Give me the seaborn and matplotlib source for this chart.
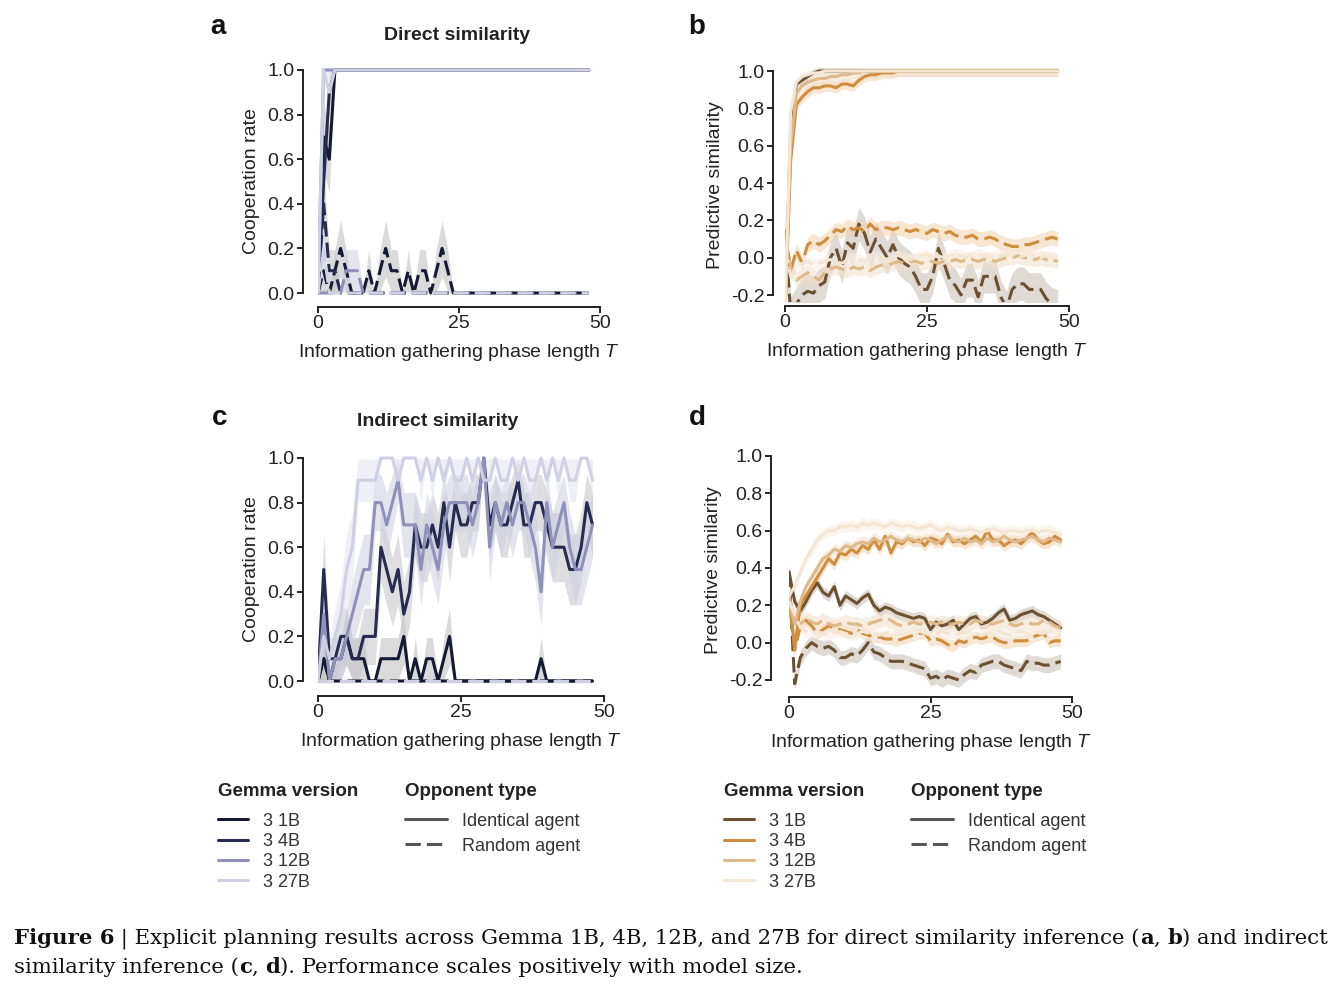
import numpy as np
import pandas as pd
import matplotlib
matplotlib.use("Agg")
import matplotlib.pyplot as plt
from matplotlib.lines import Line2D
from matplotlib import font_manager
import seaborn as sns

W, H = 1336, 990

# ---- data ----
T = list(range(49))
MODELS = ["3 1B", "3 4B", "3 12B", "3 27B"]
OPPONENTS = ["Identical agent", "Random agent"]

# panel a: direct similarity, cooperation rate
A_ID_1B = [0, .7, .6, 1, 1, 1, 1, 1, 1, 1, 1, 1, 1, 1, 1, 1, 1, 1, 1, 1, 1, 1, 1, 1, 1,
           1, 1, 1, 1, 1, 1, 1, 1, 1, 1, 1, 1, 1, 1, 1, 1, 1, 1, 1, 1, 1, 1, 1, 1]
A_ID_4B = [0, .5, .9, 1, 1, 1, 1, 1, 1, 1, 1, 1, 1, 1, 1, 1, 1, 1, 1, 1, 1, 1, 1, 1, 1,
           1, 1, 1, 1, 1, 1, 1, 1, 1, 1, 1, 1, 1, 1, 1, 1, 1, 1, 1, 1, 1, 1, 1, 1]
A_ID_12B = [0, 1, 1, 1, 1, 1, 1, 1, 1, 1, 1, 1, 1, 1, 1, 1, 1, 1, 1, 1, 1, 1, 1, 1, 1,
            1, 1, 1, 1, 1, 1, 1, 1, 1, 1, 1, 1, 1, 1, 1, 1, 1, 1, 1, 1, 1, 1, 1, 1]
A_ID_27B = [0, 1, .9, 1, 1, 1, 1, 1, 1, 1, 1, 1, 1, 1, 1, 1, 1, 1, 1, 1, 1, 1, 1, 1, 1,
            1, 1, 1, 1, 1, 1, 1, 1, 1, 1, 1, 1, 1, 1, 1, 1, 1, 1, 1, 1, 1, 1, 1, 1]
A_RD_1B = [0, .1, 0, .1, .2, .1, 0, 0, 0, .1, 0, .1, .2, .1, .1, 0, .1, 0, .1, .1, 0, .1, .2, .1, 0,
           0, 0, 0, 0, 0, 0, 0, 0, 0, 0, 0, 0, 0, 0, 0, 0, 0, 0, 0, 0, 0, 0, 0, 0]
A_RD_4B = [0, .4, .1, .1, 0, 0, 0, 0, 0, 0, 0, 0, 0, 0, 0, 0, 0, 0, 0, 0, 0, 0, 0, 0, 0,
           0, 0, 0, 0, 0, 0, 0, 0, 0, 0, 0, 0, 0, 0, 0, 0, 0, 0, 0, 0, 0, 0, 0, 0]
A_RD_12B = [0, 0, 0, 0, 0, .1, .1, .1, 0, 0, 0, 0, 0, 0, 0, 0, 0, 0, 0, 0, 0, 0, 0, 0, 0,
            0, 0, 0, 0, 0, 0, 0, 0, 0, 0, 0, 0, 0, 0, 0, 0, 0, 0, 0, 0, 0, 0, 0, 0]
A_RD_27B = [0, .2, 0, 0, 0, 0, 0, 0, 0, 0, 0, 0, 0, 0, 0, 0, 0, 0, 0, 0, 0, 0, 0, 0, 0,
            0, 0, 0, 0, 0, 0, 0, 0, 0, 0, 0, 0, 0, 0, 0, 0, 0, 0, 0, 0, 0, 0, 0, 0]

# panel b: direct similarity, predictive similarity
B_ID_1B = [-.3, .7, .93, .95, .97, .99, 1, 1, 1, 1, 1, 1, 1, 1, 1, 1, 1, 1, 1, 1, 1, 1, 1, 1, 1,
           1, 1, 1, 1, 1, 1, 1, 1, 1, 1, 1, 1, 1, 1, 1, 1, 1, 1, 1, 1, 1, 1, 1, 1]
B_ID_4B = [-.3, .52, .82, .86, .89, .91, .91, .92, .92, .91, .93, .93, .92, .95, .97, .98, .98, .99, .99, .99,
           1, 1, 1, 1, 1, 1, 1, 1, 1, 1, 1, 1, 1, 1, 1, 1, 1, 1, 1, 1, 1, 1, 1, 1, 1, 1, 1, 1, 1]
B_ID_12B = [-.3, .6, .88, .92, .94, .95, .96, .96, .97, .97, .98, .98, .99, .99, 1, 1, 1, 1, 1, 1,
            1, 1, 1, 1, 1, 1, 1, 1, 1, 1, 1, 1, 1, 1, 1, 1, 1, 1, 1, 1, 1, 1, 1, 1, 1, 1, 1, 1, 1]
B_ID_27B = [-.3, .78, .94, .97, .98, .99, .99, 1, 1, 1, 1, 1, 1, 1, 1, 1, 1, 1, 1, 1,
            1, 1, 1, 1, 1, 1, 1, 1, 1, 1, 1, 1, 1, 1, 1, 1, 1, 1, 1, 1, 1, 1, 1, 1, 1, 1, 1, 1, 1]
B_RD_1B = [.15, -.3, -.25, -.2, -.18, -.19, -.15, -.13, 0, .05, -.05, .08, .05, .18, .13, .03, .1, .05, 0, .07,
           0, -.03, -.05, -.1, -.17, -.17, -.1, .05, -.03, -.12, -.15, -.2, -.12, -.12, -.21, -.1, -.1, -.1, -.21,
           -.27, -.17, -.14, -.14, -.17, -.17, -.17, -.22, -.25, -.26]
B_RD_4B = [.15, -.07, .04, -.03, .07, .09, .07, .09, .12, .15, .14, .17, .15, .16, .14, .18, .15, .16, .16, .15,
           .16, .15, .14, .15, .14, .13, .15, .14, .13, .14, .12, .11, .11, .12, .10, .10, .11, .10, .08, .07,
           .06, .06, .07, .07, .08, .09, .10, .11, .10]
B_RD_12B = [.1, -.05, -.12, -.1, -.08, -.1, -.12, -.08, -.06, -.05, -.06, -.07, -.05, -.06, -.05, -.07, -.05,
            -.04, -.04, -.03, -.02, -.03, -.02, -.02, -.03, -.02, -.02, -.03, -.02, -.02, -.01, -.02, -.01, -.01,
            -.02, -.01, -.01, -.02, -.01, 0, 0, .01, 0, 0, -.01, 0, -.01, -.01, -.02]
B_RD_27B = [.05, -.1, -.05, -.03, -.02, -.04, -.03, -.02, -.01, -.02, -.03, -.01, 0, -.01, -.02, 0, .01, 0,
            -.01, 0, .01, 0, -.01, 0, .01, .02, 0, .01, 0, .01, .02, .01, 0, .01, .02, .01, 0, .01, .01, .02,
            .01, 0, .01, .02, .01, 0, .01, 0, -.01]

# panel c: indirect similarity, cooperation rate
C_ID_1B = [0, .1, 0, .1, .1, .2, .1, .1, .1, 0, 0, .1, .1, .1, .1, .2, 0, .1, 0, .1, .1, 0, .1, .2, 0,
           0, 0, 0, 0, 0, 0, 0, 0, 0, 0, 0, 0, 0, 0, .1, 0, 0, 0, 0, 0, 0, 0, 0, 0]
C_ID_4B = [0, .5, .1, .1, .2, .2, .1, .1, .2, .2, .2, .6, .5, .4, .5, .3, .4, .7, .6, .6, .7, .6, .8, .6, .8,
           .7, .7, .8, .8, 1, .7, .8, .7, .7, .8, .9, .7, .7, .8, .8, .7, .6, .6, .6, .5, .5, .6, .8, .7]
C_ID_12B = [0, .3, 0, .1, .1, .2, .3, .4, .5, .5, .8, .8, .7, .8, .9, .7, .7, .7, .5, .7, .6, .5, .7, .8, .8,
            .8, .8, .7, .8, 1, .6, .8, .7, .8, .7, .8, .8, .7, .6, .4, .8, .6, .7, .8, .6, .5, .5, .6, .7]
C_ID_27B = [0, .2, .1, .2, .3, .5, .6, .9, .9, .9, .9, 1, 1, 1, .9, 1, 1, 1, .9, 1, .9, 1, .9, 1, .9,
            .9, 1, .9, 1, .9, .9, 1, .9, .9, 1, .9, 1, .9, .9, 1, .9, 1, .9, 1, .9, .9, 1, 1, .9]
C_RD_1B = [0, .1, 0, 0, 0, 0, 0, 0, 0, 0, 0, 0, 0, 0, 0, 0, 0, 0, 0, 0, 0, 0, 0, 0, 0,
           0, 0, 0, 0, 0, 0, 0, 0, 0, 0, 0, 0, 0, 0, 0, 0, 0, 0, 0, 0, 0, 0, 0, 0]
C_RD_4B = [0, 0, 0, 0, 0, 0, 0, 0, 0, 0, 0, 0, 0, 0, 0, 0, 0, 0, 0, 0, 0, 0, 0, 0, 0,
           0, 0, 0, 0, 0, 0, 0, 0, 0, 0, 0, 0, 0, 0, 0, 0, 0, 0, 0, 0, 0, 0, 0, 0]
C_RD_12B = [0, 0, 0, 0, 0, 0, 0, 0, 0, 0, 0, 0, 0, 0, 0, 0, 0, 0, 0, 0, 0, 0, 0, 0, 0,
            0, 0, 0, 0, 0, 0, 0, 0, 0, 0, 0, 0, 0, 0, 0, 0, 0, 0, 0, 0, 0, 0, 0, 0]
C_RD_27B = [0, 0, 0, 0, 0, 0, 0, 0, 0, 0, 0, 0, 0, 0, 0, 0, 0, 0, 0, 0, 0, 0, 0, 0, 0,
            0, 0, 0, 0, 0, 0, 0, 0, 0, 0, 0, 0, 0, 0, 0, 0, 0, 0, 0, 0, 0, 0, 0, 0]

# panel d: indirect similarity, predictive similarity
D_ID_1B = [.38, .22, .17, .22, .28, .32, .27, .25, .3, .2, .25, .23, .21, .24, .26, .2, .17, .19, .18, .16,
           .15, .14, .13, .14, .13, .07, .11, .09, .1, .12, .07, .1, .13, .14, .1, .11, .13, .16, .18, .12,
           .13, .15, .16, .17, .15, .14, .12, .1, .08]
D_ID_4B = [.25, -.03, .2, .25, .3, .35, .4, .45, .42, .48, .47, .5, .48, .52, .5, .55, .5, .57, .48, .54,
           .53, .56, .54, .55, .52, .56, .55, .53, .58, .54, .55, .53, .55, .57, .54, .6, .55, .55, .52, .54,
           .55, .53, .56, .59, .55, .53, .54, .57, .55]
D_ID_12B = [.22, .1, .22, .3, .35, .4, .45, .47, .5, .49, .52, .51, .53, .54, .53, .56, .54, .55, .57, .55,
            .54, .56, .55, .54, .56, .55, .53, .55, .57, .55, .54, .56, .54, .55, .53, .56, .54, .55, .57, .55,
            .54, .55, .56, .57, .55, .54, .56, .55, .54]
D_ID_27B = [.25, .3, .38, .45, .5, .55, .58, .6, .6, .62, .62, .63, .62, .64, .63, .64, .63, .62, .64, .63,
            .62, .63, .62, .61, .62, .63, .61, .6, .62, .61, .6, .6, .61, .6, .59, .6, .61, .6, .59, .6,
            .6, .59, .6, .6, .59, .6, .6, .59, .58]
D_RD_1B = [.38, -.22, -.08, -.03, 0, -.02, -.03, -.02, -.04, -.08, -.08, -.06, -.07, -.04, 0, -.05, -.06,
           -.08, -.1, -.1, -.1, -.11, -.12, -.13, -.14, -.19, -.18, -.2, -.18, -.19, -.2, -.17, -.15, -.16,
           -.12, -.11, -.1, -.1, -.12, -.13, -.14, -.15, -.1, -.11, -.11, -.12, -.12, -.11, -.1]
D_RD_4B = [.25, -.04, .09, .12, .09, .05, .07, .09, .08, .07, .06, .05, .07, .05, .04, .03, .03, .02, .02,
           .01, .02, .03, .04, .05, .05, .01, .02, .01, -.01, -.02, .01, 0, .02, .03, .02, .03, .03, .01, 0,
           0, .01, .01, .01, .03, .04, .05, 0, .01, .01]
D_RD_12B = [.25, .12, .1, .13, .11, .1, .12, .1, .09, .1, .11, .1, .1, .09, .1, .11, .12, .13, .12, .1,
            .09, .1, .11, .1, .1, .11, .1, .11, .1, .1, .11, .1, .1, .12, .11, .1, .1, .11, .12, .1,
            .09, .1, .11, .1, .1, .12, .11, .09, .08]
D_RD_27B = [.22, .15, .08, .06, .05, .06, .05, .04, .05, .06, .05, .04, .05, .06, .05, .05, .04, .05, .06,
            .05, .04, .05, .05, .06, .05, .04, .05, .06, .05, .04, .05, .05, .06, .05, .04, .05, .05, .06,
            .05, .04, .05, .06, .05, .04, .05, .05, .06, .05, .04]

# half-widths of the shaded bands in b and d (per model, identical / random)
B_BAND_ID = [.02, .03, .03, .02]
B_BAND_RD = [.09, .04, .04, .03]
D_BAND_ID = [.03, .03, .03, .03]
D_BAND_RD = [.04, .03, .04, .03]

BLUES = ["#151a33", "#262b50", "#8f91ba", "#cfd0e3"]
BLUE_BANDS = ["#bdbdbd", "#c4c4c8", "#cdcee0", "#e2e3ef"]
BROWNS = ["#6b5031", "#cf8d3e", "#dfb98a", "#f4e6d2"]
BROWN_BANDS = ["#c7bdb2", "#f0d2ae", "#f2dfc8", "#f7eee3"]

# ---- style ----
sns.set_theme(style="ticks")
plt.rcParams["font.family"] = ["Liberation Sans", "DejaVu Sans"]
plt.rcParams["axes.unicode_minus"] = False
plt.rcParams["mathtext.fontset"] = "custom"
plt.rcParams["mathtext.it"] = "Liberation Sans:italic"
plt.rcParams["mathtext.rm"] = "Liberation Sans"

names = {f.name for f in font_manager.fontManager.ttflist}
NARROW = "Liberation Sans Narrow" if "Liberation Sans Narrow" in names else "Liberation Sans"
SERIF = "DejaVu Serif"
INK = "#222222"
FS = 14

fig = plt.figure(figsize=(W / 100, H / 100), dpi=100)


def make_axes(x0, x50, ytop, ybot, vtop, vbot, ylim, spine_x, spine_y):
    ppu = (ybot - ytop) / (vtop - vbot)
    top = ytop - (ylim[1] - vtop) * ppu
    bottom = ybot + (vbot - ylim[0]) * ppu
    ax = fig.add_axes([x0 / W, 1 - bottom / H, (x50 - x0) / W, (bottom - top) / H])
    ax.set_xlim(0, 50)
    ax.set_ylim(*ylim)
    sns.despine(ax=ax)
    ax.spines["left"].set_position(("outward", (x0 - spine_x) * 0.72))
    ax.spines["bottom"].set_position(("outward", (spine_y - bottom) * 0.72))
    return ax


def draw_panel(ax, ident, rand, colors, band_colors, band_id=None, band_rd=None):
    rows = []
    for opp, group, bw in [(OPPONENTS[0], ident, band_id), (OPPONENTS[1], rand, band_rd)]:
        for i, (model, vals) in enumerate(zip(MODELS, group)):
            v = np.array(vals, dtype=float)
            if bw is None:
                se = np.sqrt(np.clip(v * (1 - v), 0, None) / 10)
                lo, hi = np.clip(v - se, 0, 1), np.clip(v + se, 0, 1)
            else:
                lo, hi = v - bw[i], v + bw[i]
            ax.fill_between(T, lo, hi, color=band_colors[i], alpha=0.55, lw=0, zorder=1)
            for t, y in zip(T, vals):
                rows.append({"T": t, "value": y, "model": model, "opponent": opp})
    df = pd.DataFrame(rows)
    sns.lineplot(data=df, x="T", y="value", hue="model", style="opponent",
                 hue_order=MODELS, style_order=OPPONENTS,
                 palette=dict(zip(MODELS, colors)),
                 dashes={OPPONENTS[0]: "", OPPONENTS[1]: (5, 2)},
                 errorbar=None, linewidth=2.2, legend=False, ax=ax, zorder=3)


def finish(ax, ylabel, yticks, ybounds):
    ax.set_xticks([0, 25, 50])
    ax.set_yticks(yticks)
    ax.set_yticklabels([f"{t:.1f}" for t in yticks])
    ax.spines["left"].set_bounds(*ybounds)
    ax.spines["bottom"].set_bounds(0, 50)
    for s in ["left", "bottom"]:
        ax.spines[s].set_linewidth(1.4)
        ax.spines[s].set_color(INK)
    ax.tick_params(length=4, width=1.4, labelsize=FS, colors=INK, pad=2)
    ax.set_xlabel("Information gathering phase length $T$", fontsize=FS, color=INK, labelpad=7)
    ax.set_ylabel(ylabel, fontsize=FS, color=INK, labelpad=5)


ax_a = make_axes(318, 600, 70, 293, 1.0, 0.0, (-0.015, 1.015), 303, 307)
draw_panel(ax_a, [A_ID_1B, A_ID_4B, A_ID_12B, A_ID_27B], [A_RD_1B, A_RD_4B, A_RD_12B, A_RD_27B],
           BLUES, BLUE_BANDS)
finish(ax_a, "Cooperation rate", [0, .2, .4, .6, .8, 1.0], (0, 1))

ax_b = make_axes(785, 1069, 71, 295, 1.0, -0.2, (-0.235, 1.015), 773, 306)
draw_panel(ax_b, [B_ID_1B, B_ID_4B, B_ID_12B, B_ID_27B], [B_RD_1B, B_RD_4B, B_RD_12B, B_RD_27B],
           BROWNS, BROWN_BANDS, B_BAND_ID, B_BAND_RD)
finish(ax_b, "Predictive similarity", [-.2, 0, .2, .4, .6, .8, 1.0], (-0.2, 1))

ax_c = make_axes(318, 604, 458, 681, 1.0, 0.0, (-0.015, 1.015), 303, 696)
draw_panel(ax_c, [C_ID_1B, C_ID_4B, C_ID_12B, C_ID_27B], [C_RD_1B, C_RD_4B, C_RD_12B, C_RD_27B],
           BLUES, BLUE_BANDS)
finish(ax_c, "Cooperation rate", [0, .2, .4, .6, .8, 1.0], (0, 1))

ax_d = make_axes(789, 1072, 456, 680, 1.0, -0.2, (-0.235, 1.015), 771, 697)
draw_panel(ax_d, [D_ID_1B, D_ID_4B, D_ID_12B, D_ID_27B], [D_RD_1B, D_RD_4B, D_RD_12B, D_RD_27B],
           BROWNS, BROWN_BANDS, D_BAND_ID, D_BAND_RD)
finish(ax_d, "Predictive similarity", [-.2, 0, .2, .4, .6, .8, 1.0], (-0.2, 1))

# panel letters and titles
for letter, x, y in [("a", 218, 27), ("b", 697, 27), ("c", 220, 418), ("d", 697, 418)]:
    fig.text(x / W, 1 - y / H, letter, fontsize=20, fontweight="bold", ha="center", va="center", color="#111111")
fig.text(457 / W, 1 - 35 / H, "Direct similarity", fontsize=FS, fontweight="bold", ha="center", va="center", color=INK)
fig.text(438 / W, 1 - 421 / H, "Indirect similarity", fontsize=FS, fontweight="bold", ha="center", va="center", color=INK)


# legends
def add_legends(colors, x_gemma, x_opp):
    h_models = [Line2D([], [], color=c, lw=2.2) for c in colors]
    h_opp = [Line2D([], [], color="#555555", lw=2.2),
             Line2D([], [], color="#555555", lw=2.2, dashes=(5, 2))]
    common = dict(loc="upper left", frameon=False, borderpad=0, borderaxespad=0,
                  alignment="left", handletextpad=0.85,
                  title_fontproperties={"family": NARROW, "weight": "bold", "size": 13.5},
                  prop={"family": NARROW, "size": 13})
    lg1 = fig.legend(h_models, MODELS, title="Gemma version", bbox_to_anchor=(x_gemma / W, 1 - 783 / H),
                     handlelength=1.65, labelspacing=0.19, **common)
    lg2 = fig.legend(h_opp, OPPONENTS, title="Opponent type", bbox_to_anchor=(x_opp / W, 1 - 783 / H),
                     handlelength=2.3, labelspacing=0.46, **common)
    for lg in (lg1, lg2):
        lg._legend_box.sep = 9
        for t in lg.get_texts():
            t.set_color("#333333")
        lg.get_title().set_color(INK)


add_legends(BLUES, 218, 405)
add_legends(BROWNS, 724, 911)

# caption
renderer = fig.canvas.get_renderer()


def run_width(s, size, weight):
    probe = fig.text(0, 0, "I" + s + "I", fontsize=size, fontweight=weight, family=SERIF)
    ref = fig.text(0, 0, "II", fontsize=size, fontweight=weight, family=SERIF)
    w = probe.get_window_extent(renderer).width - ref.get_window_extent(renderer).width
    probe.remove()
    ref.remove()
    return w


LINE1 = [("Figure 6", "bold"),
         (" | Explicit planning results across Gemma 1B, 4B, 12B, and 27B for direct similarity inference (", "normal"),
         ("a", "bold"), (", ", "normal"), ("b", "bold"), (") and indirect", "normal")]
LINE2 = [("similarity inference (", "normal"), ("c", "bold"), (", ", "normal"), ("d", "bold"),
         ("). Performance scales positively with model size.", "normal")]

base = 10
w2 = sum(run_width(s, base, wt) for s, wt in LINE2)
cap_size = base * (805 - 14) / w2


def draw_runs(runs, x_px, y_px):
    x = x_px
    for s, wt in runs:
        fig.text(x / W, 1 - y_px / H, s, fontsize=cap_size, fontweight=wt, family=SERIF,
                 va="baseline", ha="left", color="#111111")
        x += run_width(s, cap_size, wt)


draw_runs(LINE1, 14, 944)
draw_runs(LINE2, 14, 973)

fig.savefig("out.png", dpi=100)
